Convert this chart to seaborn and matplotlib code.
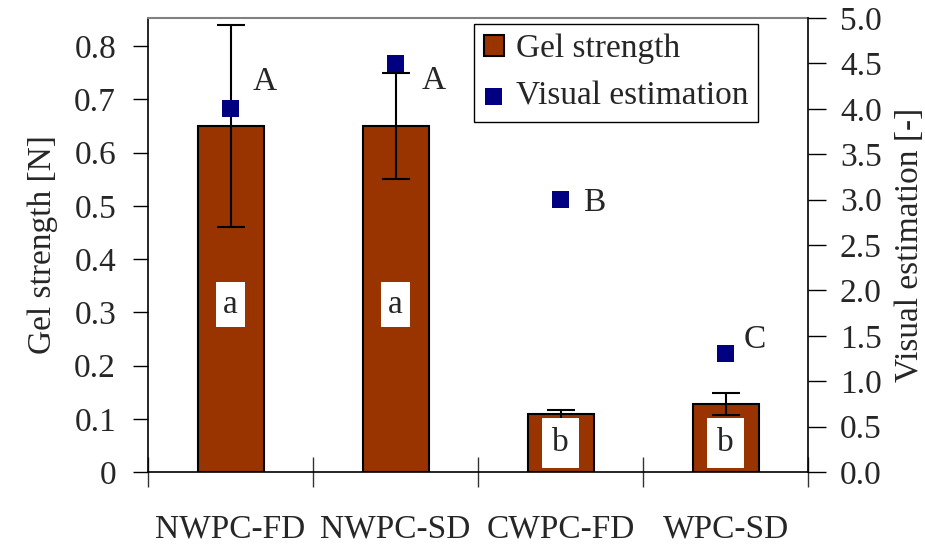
import matplotlib
matplotlib.use("Agg")
import matplotlib.pyplot as plt
from matplotlib.ticker import FixedLocator, FormatStrFormatter, MultipleLocator
import seaborn as sns
import pandas as pd

# Data
categories = ["NWPC-FD", "NWPC-SD", "CWPC-FD", "WPC-SD"]
gel_strength = [0.65, 0.65, 0.108, 0.128]
gel_error = [0.19, 0.10, 0.009, 0.021]
visual_estimation = [4.0, 4.5, 3.0, 1.3]
bar_letters = ["a", "a", "b", "b"]
bar_letter_y = [0.314, 0.314, 0.054, 0.054]
point_letters = ["A", "A", "B", "C"]
point_letter_dx = [0.21, 0.23, 0.205, 0.18]
point_letter_y = [4.30, 4.31, 2.96, 1.46]

df = pd.DataFrame({"category": categories, "gel": gel_strength,
                   "err": gel_error, "visual": visual_estimation})

sns.set_style("ticks")
plt.rcParams["font.family"] = ["Liberation Serif", "DejaVu Serif"]
FS = 24

fig = plt.figure(figsize=(9.25, 5.44), dpi=100)
ax = fig.add_axes([148 / 925, 72 / 544, 660 / 925, 454 / 544])

BAR_COLOR = "#993300"
PT_COLOR = "#000080"

sns.barplot(data=df, x="category", y="gel", color=BAR_COLOR, width=0.4,
            edgecolor="black", linewidth=1.5, saturation=1, errorbar=None,
            ax=ax, label="Gel strength", zorder=2)
xs = list(range(len(categories)))
ax.errorbar(xs, gel_strength, yerr=gel_error, fmt="none", ecolor="black",
            elinewidth=1.5, capsize=10, capthick=1.5, zorder=3)

for x, lab, y in zip(xs, bar_letters, bar_letter_y):
    pad = 0.3 if lab == "b" else 0.22
    ax.text(x, y, lab, ha="center", va="center", fontsize=FS, zorder=4,
            bbox=dict(boxstyle=f"square,pad={pad}", facecolor="white",
                      edgecolor="none"))

ax.set_xlim(-0.5, len(categories) - 0.5)
ax.set_ylim(0, 0.8526)
ax.set_xlabel("")
ax.set_ylabel("Gel strength [N]", fontsize=FS, labelpad=12)
ax.yaxis.set_major_locator(FixedLocator([0, 0.1, 0.2, 0.3, 0.4, 0.5, 0.6, 0.7, 0.8]))
ax.yaxis.set_major_formatter(FormatStrFormatter("%g"))
ax.tick_params(axis="y", labelsize=FS, direction="out", length=11, width=1,
               pad=12, color="black")
ax.set_xticks(xs)
ax.set_xticklabels(categories)
ax.tick_params(axis="x", which="major", length=0, labelsize=FS, pad=30)
ax.xaxis.set_minor_locator(FixedLocator([-0.5, 0.5, 1.5, 2.5, 3.5]))
ax.tick_params(axis="x", which="minor", direction="inout", length=22, width=1,
               color="#333333")

for side in ["left", "bottom"]:
    ax.spines[side].set_color("black")
    ax.spines[side].set_linewidth(1.2)
ax.spines["top"].set_color("#808080")
ax.spines["top"].set_linewidth(1.5)
ax.spines["right"].set_visible(False)

# Visual estimation on the secondary axis
ax2 = ax.twinx()
sns.scatterplot(data=df, x="category", y="visual", marker="s", s=150,
                color=PT_COLOR, edgecolor="none", linewidth=0, ax=ax2,
                label="Visual estimation", zorder=5)
for x, lab, dx, y in zip(xs, point_letters, point_letter_dx, point_letter_y):
    ax2.text(x + dx, y, lab, ha="center", va="center", fontsize=FS)

ax2.set_xlim(-0.5, len(categories) - 0.5)
ax2.set_ylim(0, 5.0)
ax2.yaxis.set_major_locator(MultipleLocator(0.5))
ax2.yaxis.set_major_formatter(FormatStrFormatter("%.1f"))
ax2.set_ylabel("Visual estimation [-]", fontsize=FS, labelpad=9)
ax2.tick_params(axis="y", labelsize=FS, direction="out", length=13, width=1,
                pad=10, color="black")
ax2.spines["right"].set_color("black")
ax2.spines["right"].set_linewidth(1.2)
ax2.spines["top"].set_visible(False)
ax2.spines["left"].set_visible(False)
ax2.spines["bottom"].set_visible(False)

# Combined legend
if ax.get_legend() is not None:
    ax.get_legend().remove()
h1, l1 = ax.get_legend_handles_labels()
h2, l2 = ax2.get_legend_handles_labels()
if ax2.get_legend() is not None:
    ax2.get_legend().remove()
leg = ax2.legend(h1 + h2, l1 + l2, loc="upper right",
                 bbox_to_anchor=(610 / 660, 448 / 454), fontsize=FS,
                 frameon=True, fancybox=False, edgecolor="black",
                 framealpha=1, borderpad=0.3, handlelength=0.6,
                 handleheight=0.6, handletextpad=0.35, labelspacing=0.5,
                 borderaxespad=0)
leg.get_frame().set_linewidth(1.0)

fig.savefig("out.png", dpi=100)
